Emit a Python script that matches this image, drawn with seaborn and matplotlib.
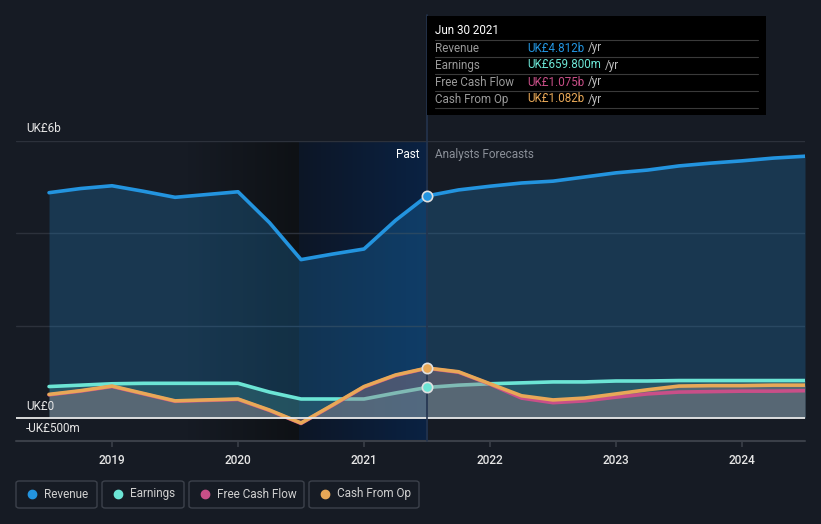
import numpy as np
import pandas as pd
import matplotlib.pyplot as plt
import seaborn as sns
from matplotlib.patches import FancyBboxPatch, Rectangle
from matplotlib.lines import Line2D
from matplotlib.colors import to_rgba

# === data (UK£ billions) ===
dates = [2018.5, 2018.75, 2019.0, 2019.25, 2019.5, 2019.75, 2020.0, 2020.25, 2020.5,
         2020.75, 2021.0, 2021.25, 2021.5, 2021.75, 2022.0, 2022.25, 2022.5, 2022.75,
         2023.0, 2023.25, 2023.5, 2023.75, 2024.0, 2024.25, 2024.5]
revenue = [4.88, 4.97, 5.03, 4.91, 4.78, 4.84, 4.90, 4.23, 3.43, 3.55, 3.66, 4.28, 4.81,
           4.94, 5.02, 5.09, 5.13, 5.22, 5.31, 5.37, 5.46, 5.52, 5.57, 5.63, 5.67]
earnings = [0.68, 0.71, 0.74, 0.75, 0.75, 0.75, 0.75, 0.56, 0.41, 0.41, 0.41, 0.54, 0.66,
            0.71, 0.74, 0.76, 0.78, 0.78, 0.80, 0.80, 0.81, 0.81, 0.81, 0.81, 0.81]
free_cash_flow = [0.50, 0.58, 0.68, 0.52, 0.36, 0.38, 0.40, 0.16, -0.12, 0.27, 0.67, 0.92, 1.075,
                  0.99, 0.73, 0.43, 0.33, 0.37, 0.45, 0.52, 0.56, 0.57, 0.58, 0.58, 0.59]
cash_from_op = [0.51, 0.59, 0.69, 0.53, 0.37, 0.39, 0.41, 0.17, -0.11, 0.28, 0.68, 0.93, 1.082,
                1.00, 0.74, 0.48, 0.39, 0.43, 0.52, 0.61, 0.69, 0.70, 0.70, 0.71, 0.71]
year_ticks = [2019, 2020, 2021, 2022, 2023, 2024]
now = 2021.5
tooltip_rows = [("Revenue", "UK£4.812b"), ("Earnings", "UK£659.800m"),
                ("Free Cash Flow", "UK£1.075b"), ("Cash From Op", "UK£1.082b")]

BG = "#161b24"
C_REV, C_EARN, C_FCF, C_CFO = "#2394df", "#6ce5d5", "#c94f88", "#e8a857"

df = pd.DataFrame({"date": dates, "Revenue": revenue, "Earnings": earnings,
                   "Free Cash Flow": free_cash_flow, "Cash From Op": cash_from_op})

sns.set_style("dark")
plt.rcParams["font.family"] = ["Roboto", "DejaVu Sans"]

W, H = 821, 524
fig = plt.figure(figsize=(W / 100, H / 100), dpi=100, facecolor=BG)
ax = fig.add_axes([16 / W, 1 - 441 / H, (805 - 16) / W, 300 / H])
ax.set_facecolor(BG)
x0 = 2018.5 - 33 / 125.8
x1 = 2024.5

# background shading: dark fade up to mid 2020, blue "past" glow to now
highlight_start = 2020.48
g = np.linspace(0, 1, 256)[None, :]
c_a, c_b = np.array(to_rgba(BG)), np.array(to_rgba("#0e1115"))
img1 = c_a + (c_b - c_a) * g[..., None]
ax.imshow(img1, extent=[2019.6, highlight_start, -0.5, 6], aspect="auto", zorder=0)
c_c, c_d = np.array(to_rgba("#0d1626")), np.array(to_rgba("#0a2243"))
img2 = c_c + (c_d - c_c) * g[..., None]
ax.imshow(img2, extent=[highlight_start, now, -0.5, 6], aspect="auto", zorder=0)
ax.set_xlim(x0, x1)
ax.set_ylim(-0.5, 6)

# grid
for yv in [2, 4, 6]:
    ax.axhline(yv, color="#2c313b", lw=1, zorder=1)
ax.axhline(0, color="#e8e8e8", lw=1.3, zorder=6)
ax.axhline(-0.5, color="#3a3f48", lw=1.5, zorder=6, clip_on=False)

# area fills
ax.fill_between(df["date"], 0, df["Revenue"], color=C_REV, alpha=0.24, lw=0, zorder=2)
ax.fill_between(df["date"], 0, df["Earnings"], color=C_EARN, alpha=0.18, lw=0, zorder=3)

sns.lineplot(data=df, x="date", y="Revenue", color=C_REV, lw=2.6, ax=ax, zorder=5,
             solid_capstyle="round", solid_joinstyle="round")
sns.lineplot(data=df, x="date", y="Earnings", color=C_EARN, lw=2.6, ax=ax, zorder=3.5,
             solid_capstyle="round", solid_joinstyle="round")
ax.fill_between(df["date"], 0, df["Cash From Op"], color="#9a7f88", alpha=0.42, lw=0, zorder=4)
sns.lineplot(data=df, x="date", y="Free Cash Flow", color=C_FCF, lw=2.6, ax=ax, zorder=4.5,
             solid_capstyle="round", solid_joinstyle="round")
sns.lineplot(data=df, x="date", y="Cash From Op", color=C_CFO, lw=2.6, ax=ax, zorder=4.6,
             solid_capstyle="round", solid_joinstyle="round")

# markers at "now"
idx = dates.index(now)
for series, col in [(revenue, C_REV), (cash_from_op, C_CFO), (earnings, C_EARN)]:
    ax.scatter([now], [series[idx]], s=55, color=col, edgecolor="#e0e0e0", lw=1.2, zorder=8)

# vertical line at now, up through the tooltip
ax.add_line(Line2D([now, now], [-0.5, -0.5 + (441 - 15) / 46.15], color="#24344e",
                   lw=1.2, zorder=7, clip_on=False))

ax.text(now - 0.06, 5.7, "Past", color="white", fontsize=8.5, ha="right", va="center", zorder=9)
ax.text(now + 0.06, 5.7, "Analysts Forecasts", color="#8a8f98", fontsize=8.5, ha="left",
        va="center", zorder=9)

# axes styling
ax.set_xticks(year_ticks)
ax.set_xticklabels([str(y) for y in year_ticks])
ax.set_yticks([])
ax.tick_params(axis="x", colors="#3a3f48", labelcolor="#e6e6e6", labelsize=8.5,
               length=4, width=1.2, pad=5, bottom=True)
for lbl in ax.get_xticklabels():
    lbl.set_fontweight("medium")
ax.set_xlabel("")
ax.set_ylabel("")
ax.grid(False)
for s in ax.spines.values():
    s.set_visible(False)
if ax.get_legend():
    ax.get_legend().remove()

def px(x, y):
    return x / W, 1 - y / H

fig.text(*px(26, 129), "UK£6b", color="#e6e6e6", fontsize=8.5, va="center", ha="left")
fig.text(*px(26, 406), "UK£0", color="#e6e6e6", fontsize=8.5, va="center", ha="left", zorder=10)
fig.text(*px(26, 429), "-UK£500m", color="#e6e6e6", fontsize=8.5, va="center", ha="left")

# tooltip box
fig.patches.append(Rectangle(px(427, 115), 339 / W, 99 / H, transform=fig.transFigure,
                             facecolor="black", edgecolor="none", zorder=20))
fig.text(*px(435, 31), "Jun 30 2021", color="white", fontsize=8.4, va="center", zorder=21)
row_cols = [C_REV, C_EARN, C_FCF, C_CFO]
fig.canvas.draw()
rend = fig.canvas.get_renderer()
for i, ((name, val), col) in enumerate(zip(tooltip_rows, row_cols)):
    yy = 48 + i * 17
    sep = yy - 8
    fig.add_artist(Line2D([435 / W, 758 / W], [1 - sep / H, 1 - sep / H], color="#3a3a3a",
                          lw=0.8, transform=fig.transFigure, zorder=21))
    fig.text(*px(435, yy), name, color="#9a9a9a", fontsize=8.4, va="center", zorder=21)
    t = fig.text(*px(527, yy), val, color=col, fontsize=8.4, va="center", zorder=21)
    bb = t.get_window_extent(renderer=rend)
    fig.text(bb.x1 / W + 4 / W, 1 - yy / H, "/yr", color="#bdbdbd", fontsize=8.4, va="center",
             zorder=21)
fig.add_artist(Line2D([435 / W, 758 / W], [1 - 108 / H, 1 - 108 / H], color="#3a3a3a",
                      lw=0.8, transform=fig.transFigure, zorder=21))

# legend chips
chips = [("Revenue", C_REV, 16, 97), ("Earnings", C_EARN, 102, 184),
         ("Free Cash Flow", C_FCF, 189, 304), ("Cash From Op", C_CFO, 309, 419)]
for name, col, xa, xb in chips:
    fig.patches.append(FancyBboxPatch(px(xa, 508), (xb - xa) / W, 27 / H,
                                      boxstyle="round,pad=0,rounding_size=0.004",
                                      transform=fig.transFigure, facecolor="none",
                                      edgecolor="#3c414b", lw=1))
    fig.add_artist(Line2D([(xa + 16) / W], [1 - 494 / H], marker="o", markersize=6,
                          color=col, transform=fig.transFigure))
    fig.text(*px(xa + 28, 494), name, color="#d0d0d0", fontsize=8.5, va="center")

fig.savefig("out.png", dpi=100, facecolor=BG)
